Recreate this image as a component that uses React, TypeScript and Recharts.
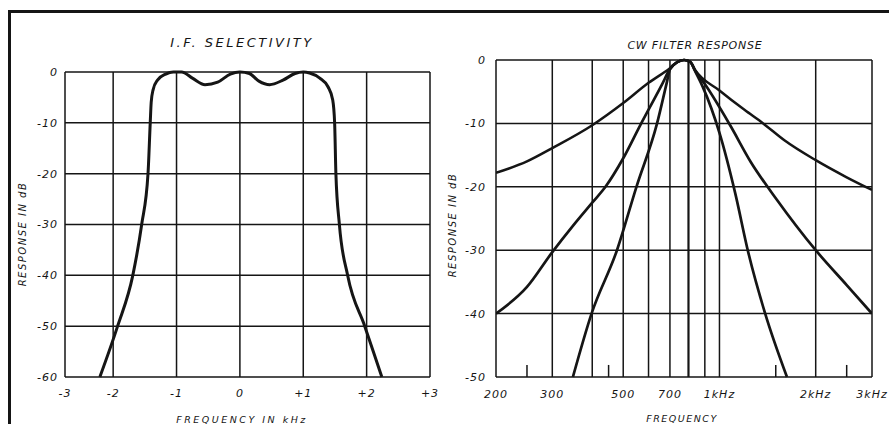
import { Line, LineChart, ReferenceLine, XAxis, YAxis } from "recharts";

// I.F. selectivity (kHz off centre, dB)
const IF_KHZ = [-2.21, -1.93, -1.69, -1.55, -1.45, -1.415, -1.4, -1.37, -1.3, -1.17, -1.05, -0.92, -0.75, -0.55, -0.35, -0.15, 0, 0.15, 0.3, 0.47, 0.68, 0.87, 1.0, 1.1, 1.26, 1.39, 1.465, 1.495, 1.515, 1.57, 1.7, 1.97, 2.24];
const IF_DB = [-60, -50, -40, -30, -20, -10, -6, -3.5, -1.6, -0.4, 0, 0, -1.2, -2.5, -2.0, -0.4, 0, -0.3, -1.8, -2.5, -1.6, -0.3, 0, -0.2, -1.2, -2.9, -5.5, -10, -20, -30, -40, -50, -60];
const IF_X_TICKS = [-2.76, -2, -1, 0, 1, 2, 3];
const IF_X_LABELS = ["-3", "-2", "-1", "0", "+1", "+2", "+3"];
const IF_Y_TICKS = [0, -10, -20, -30, -40, -50, -60];

// CW filter response, three bandwidths (Hz, dB)
const CW_WIDE_HZ = [200, 250, 300, 400, 500, 600, 700, 740, 775, 810, 840, 1000, 1200, 1370, 1600, 2000, 2500, 3000];
const CW_WIDE_DB = [-17.8, -16.0, -13.9, -10.3, -6.8, -3.6, -1.3, -0.3, 0, -0.3, -1.6, -4.8, -7.9, -10, -12.7, -15.8, -18.5, -20.5];
const CW_MID_HZ = [200, 250, 300, 350, 400, 440, 500, 565, 665, 700, 740, 775, 810, 840, 900, 1080, 1250, 1510, 2000, 2500, 3000];
const CW_MID_DB = [-40, -35.8, -30.3, -26, -22.5, -20, -15.5, -10.3, -3.6, -1.4, -0.3, 0, -0.3, -1.7, -3.8, -10.3, -16, -22, -30, -35.5, -40];
const CW_NARROW_HZ = [348, 398, 478, 550, 638, 684, 700, 740, 775, 810, 840, 886, 1000, 1120, 1230, 1390, 1626];
const CW_NARROW_DB = [-50, -40, -30, -20, -10, -3.6, -1.5, -0.3, 0, -0.3, -1.8, -4.2, -11.5, -21, -30.3, -40, -50];
const CW_GRID_HZ = [200, 300, 400, 500, 600, 700, 800, 900, 1000, 2000, 3000];
const CW_X_TICKS = [200, 300, 500, 700, 1000, 2000, 3000];
const CW_X_LABELS = ["200", "300", "500", "700", "1kHz", "2kHz", "3kHz"];
const CW_MINOR_HZ = [250, 450, 1500, 2500];
const CW_Y_TICKS = [0, -10, -20, -30, -40, -50];

const INK = "#151515";
const FONT = "'DejaVu Sans', sans-serif";
const tickStyle = { fill: INK, fontSize: 11, fontStyle: "italic", fontFamily: FONT, letterSpacing: 1 };

const toRows = (xs: number[], ys: number[]) => xs.map((f, i) => ({ f, db: ys[i] }));

const ifData = toRows(IF_KHZ, IF_DB);
const cwWide = toRows(CW_WIDE_HZ, CW_WIDE_DB);
const cwMid = toRows(CW_MID_HZ, CW_MID_DB);
const cwNarrow = toRows(CW_NARROW_HZ, CW_NARROW_DB);

function Caption({ x, y, text, size = 10, rotate = false, spacing = 1.5 }: { x: number; y: number; text: string; size?: number; rotate?: boolean; spacing?: number }) {
  return (
    <div
      style={{
        position: "absolute",
        left: x,
        top: y,
        transform: `translate(-50%, -50%)${rotate ? " rotate(-90deg)" : ""}`,
        whiteSpace: "nowrap",
        fontFamily: FONT,
        fontStyle: "italic",
        fontSize: size,
        letterSpacing: spacing,
        color: INK,
      }}
    >
      {text}
    </div>
  );
}

export default function App() {
  return (
    <div style={{ position: "absolute", left: 0, top: 0, width: 889, height: 424, background: "#fff", overflow: "hidden" }}>
      <div style={{ position: "absolute", left: 8, top: 10, width: 881, height: 414, borderTop: `3px solid ${INK}`, borderLeft: `3px solid ${INK}` }} />

      <div style={{ position: "absolute", left: 0, top: 0 }}>
        <LineChart width={445} height={424} margin={{ top: 72, right: 15, bottom: 0, left: 10 }}>
          <XAxis
            dataKey="f"
            type="number"
            domain={[IF_X_TICKS[0], 3]}
            ticks={IF_X_TICKS}
            tickFormatter={(_v: number, i: number) => IF_X_LABELS[i]}
            allowDataOverflow
            height={47}
            axisLine={false}
            tickLine={false}
            tickSize={0}
            tickMargin={12}
            tick={tickStyle}
          />
          <YAxis
            type="number"
            domain={[-60, 0]}
            ticks={IF_Y_TICKS}
            width={55}
            axisLine={false}
            tickLine={false}
            tickSize={0}
            tickMargin={7}
            tick={tickStyle}
          />
          {IF_X_TICKS.map((v) => (
            <ReferenceLine key={`x${v}`} x={v} stroke={INK} strokeWidth={1.5} />
          ))}
          {IF_Y_TICKS.map((v) => (
            <ReferenceLine key={`y${v}`} y={v} stroke={INK} strokeWidth={1.5} />
          ))}
          <Line data={ifData} dataKey="db" type="monotone" stroke={INK} strokeWidth={3} dot={false} isAnimationActive={false} />
        </LineChart>
      </div>

      <div style={{ position: "absolute", left: 444, top: 0 }}>
        <LineChart width={445} height={424} margin={{ top: 60, right: 17, bottom: 0, left: 0 }}>
          <XAxis
            dataKey="f"
            type="number"
            scale="log"
            domain={[200, 3000]}
            ticks={CW_X_TICKS}
            tickFormatter={(_v: number, i: number) => CW_X_LABELS[i]}
            allowDataOverflow
            height={47}
            axisLine={false}
            tickLine={false}
            tickSize={0}
            tickMargin={13}
            tick={tickStyle}
          />
          <YAxis
            type="number"
            domain={[-50, 0]}
            ticks={CW_Y_TICKS}
            width={52}
            axisLine={false}
            tickLine={false}
            tickSize={0}
            tickMargin={10}
            tick={tickStyle}
          />
          {CW_GRID_HZ.map((v) => (
            <ReferenceLine key={`x${v}`} x={v} stroke={INK} strokeWidth={v === 800 ? 2.2 : 1.5} />
          ))}
          {CW_Y_TICKS.map((v) => (
            <ReferenceLine key={`y${v}`} y={v} stroke={INK} strokeWidth={1.5} />
          ))}
          {CW_MINOR_HZ.map((v) => (
            <ReferenceLine key={`m${v}`} segment={[{ x: v, y: -50 }, { x: v, y: -48.1 }]} stroke={INK} strokeWidth={1.5} />
          ))}
          <Line data={cwWide} dataKey="db" type="monotone" stroke={INK} strokeWidth={2.5} dot={false} isAnimationActive={false} />
          <Line data={cwMid} dataKey="db" type="monotone" stroke={INK} strokeWidth={2.7} dot={false} isAnimationActive={false} />
          <Line data={cwNarrow} dataKey="db" type="monotone" stroke={INK} strokeWidth={2.7} dot={false} isAnimationActive={false} />
        </LineChart>
      </div>

      <Caption x={242} y={42} text="I.F. SELECTIVITY" size={13} spacing={2.5} />
      <Caption x={695} y={45} text="CW FILTER RESPONSE" size={11} spacing={0.8} />
      <Caption x={22} y={234} text="RESPONSE IN dB" size={10} rotate />
      <Caption x={452} y={225} text="RESPONSE IN dB" size={10} rotate />
      <Caption x={242} y={419} text="FREQUENCY IN kHz" size={9.5} spacing={2.5} />
      <Caption x={682} y={418} text="FREQUENCY" size={9.5} spacing={1.5} />
    </div>
  );
}
